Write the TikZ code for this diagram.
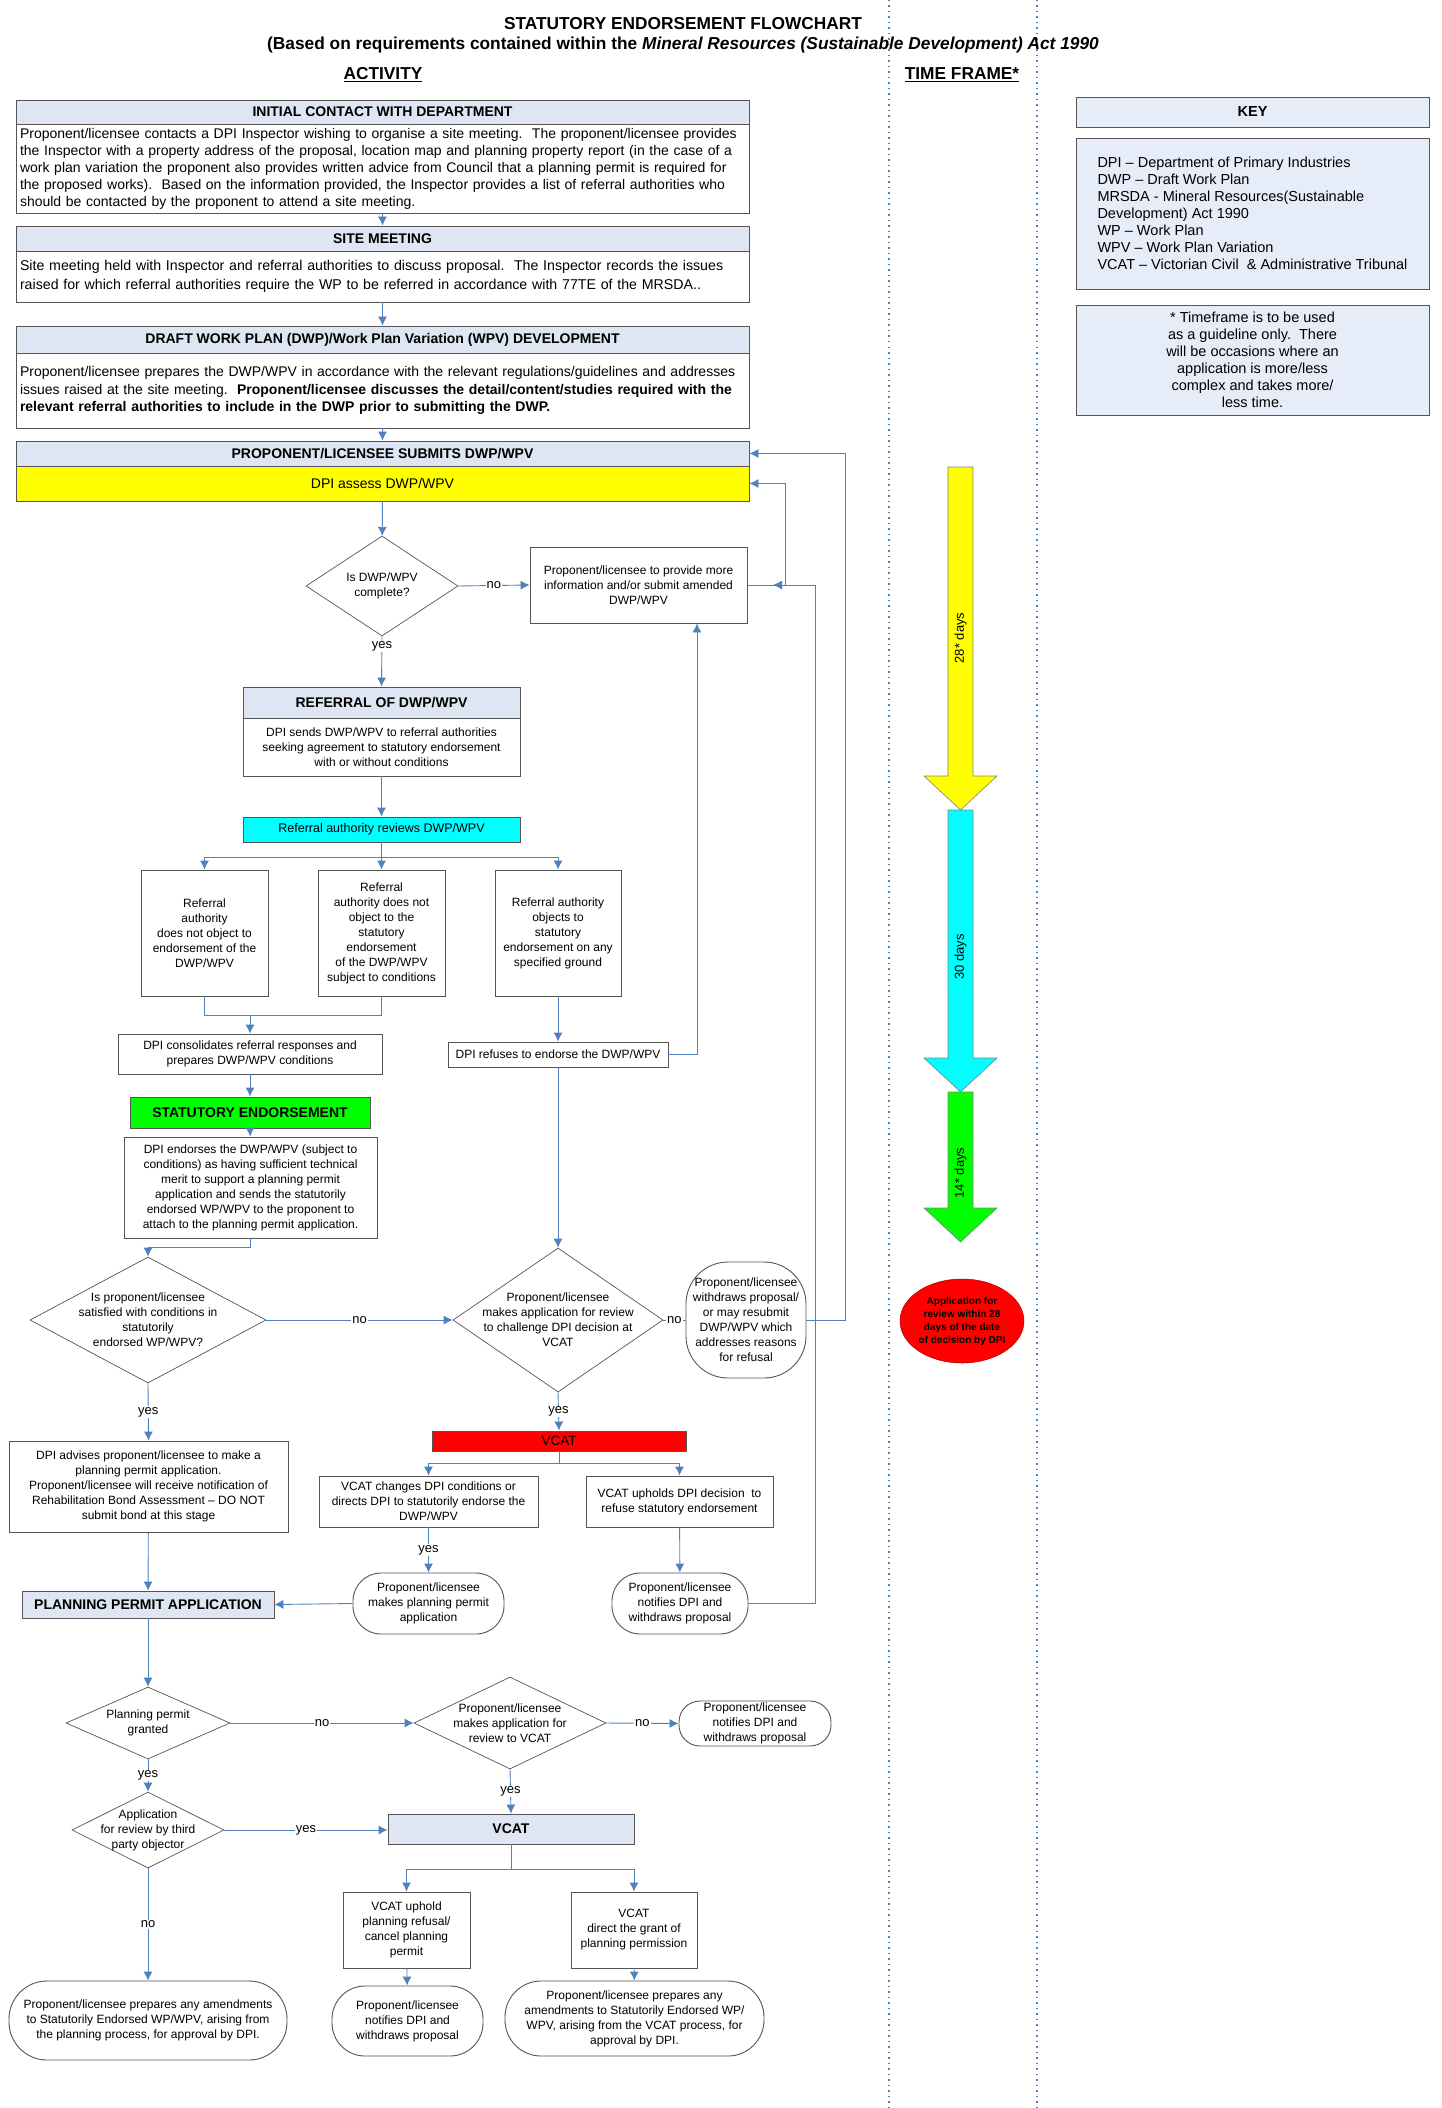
\documentclass[tikz,border=0pt]{standalone}
\usepackage{fontspec}
\setmainfont{Liberation Sans}
\usepackage{xcolor}
\usepackage{tikz}
\usetikzlibrary{shapes.geometric,arrows.meta,calc}

\definecolor{linkblue}{RGB}{79,129,189}
\definecolor{headblue}{RGB}{221,230,242}
\definecolor{keyblue}{RGB}{230,237,248}
\definecolor{edgegray}{RGB}{85,85,85}
\definecolor{stageyellow}{RGB}{255,255,0}
\definecolor{stagecyan}{RGB}{0,255,255}
\definecolor{stagegreen}{RGB}{0,255,0}
\definecolor{stagered}{RGB}{255,0,0}

\begin{document}
\begin{tikzpicture}[x=1pt,y=-1pt,
		box/.style={draw=edgegray,line width=0.9pt,fill=white,inner sep=2pt,align=center,font=\fontsize{12}{15}\selectfont},
		headbox/.style={box,fill=headblue,font=\bfseries\fontsize{14}{17}\selectfont},
		textbox/.style={box,align=left,inner xsep=4pt,text width=725pt,font=\fontsize{14}{15.3}\selectfont},
		oval/.style={box,rounded corners=#1},
		query/.style={diamond,draw=edgegray,line width=0.7pt,fill=white,inner sep=0pt},
		qtext/.style={align=center,font=\fontsize{12}{15}\selectfont},
		link/.style={draw=linkblue,line width=0.9pt},
		flow/.style={link,-{Latex[length=9pt,width=9pt]}},
		answer/.style={fill=white,inner sep=1pt,font=\fontsize{13}{15}\selectfont},
		keybox/.style={draw=edgegray,line width=0.9pt,fill=keyblue,font=\fontsize{14.5}{17}\selectfont},
		heading/.style={font=\bfseries\fontsize{17.3}{20}\selectfont}]
		\useasboundingbox (0,0) rectangle (1441,2108);
		% time frame column
		\draw[linkblue,line width=1.3pt,dash pattern=on 1.5pt off 4pt] (889,0) -- (889,2108);
		\draw[linkblue,line width=1.3pt,dash pattern=on 1.5pt off 4pt] (1037,0) -- (1037,2108);
		% titles
		\node[heading] (title) at (683,24) {STATUTORY ENDORSEMENT FLOWCHART};
		\node[heading] (subtitle) at (683,45) {(Based on requirements contained within the \textit{Mineral Resources (Sustainable Development) Act 1990}};
		\node[heading] (activity) at (383,75) {\underline{ACTIVITY}};
		\node[heading] (timeframe) at (962,75) {\underline{TIME FRAME*}};
		% key
		\node[keybox,minimum width=353pt,minimum height=30pt,font=\bfseries\fontsize{14.5}{17}\selectfont] (keyhead) at (1252.5,112) {KEY};
		\node[keybox,minimum width=353pt,minimum height=151pt,align=left] (keybody) at (1252.5,213.5) {DPI – Department of Primary Industries\\DWP – Draft Work Plan\\MRSDA - Mineral Resources(Sustainable\\Development) Act 1990\\WP – Work Plan\\WPV – Work Plan Variation\\VCAT – Victorian Civil\ \ \& Administrative Tribunal};
		\node[keybox,minimum width=353pt,minimum height=110pt,align=center] (keynote) at (1252.5,360) {* Timeframe is to be used\\as a guideline only.\ \ There\\will be occasions where an\\application is more/less\\complex and takes more/\\less time.};
		% time bars
		\foreach \top/\neck/\tip/\col/\mid/\days in {467/776/810/stageyellow/638/28* days,810/1058/1092/stagecyan/957/30 days,1092/1208/1242/stagegreen/1173/14* days}{
			\filldraw[fill=\col,draw=gray,line width=0.6pt] (948,\top) -- (973,\top) -- (973,\neck) -- (997,\neck) -- (960.5,\tip) -- (924,\neck) -- (948,\neck) -- cycle;
			\node[rotate=90,font=\fontsize{13}{15}\selectfont] at (960.5,\mid) {\days};
		}
		\node[ellipse,fill=stagered,draw=red!70!black,line width=0.5pt,minimum width=124pt,minimum height=84pt,inner sep=0pt,
			label={[align=center,font=\bfseries\fontsize{10}{13}\selectfont]center:{Application for\\review within 28\\days of the date\\of decision by DPI}}] (window) at (962,1321) {};
		% activity column
		\node[headbox,minimum width=733pt,minimum height=24pt] (contacthead) at (382.5,112) {INITIAL CONTACT WITH DEPARTMENT};
		\node[textbox,minimum height=89pt,font=\fontsize{14}{17}\selectfont] (contactbody) at (382.5,168.5) {Proponent/licensee contacts a DPI Inspector wishing to organise a site meeting.\ \ The proponent/licensee provides\\the Inspector with a property address of the proposal, location map and planning property report (in the case of a\\work plan variation the proponent also provides written advice from Council that a planning permit is required for\\the proposed works).\ \ Based on the information provided, the Inspector provides a list of referral authorities who\\should be contacted by the proponent to attend a site meeting.};
		\node[headbox,minimum width=733pt,minimum height=25pt] (sitehead) at (382.5,238.5) {SITE MEETING};
		\node[textbox,minimum height=51pt,font=\fontsize{14.2}{19.5}\selectfont] (sitebody) at (382.5,276.5) {Site meeting held with Inspector and referral authorities to discuss proposal.\ \ The Inspector records the issues\\raised for which referral authorities require the WP to be referred in accordance with 77TE of the MRSDA..};
		\node[headbox,minimum width=733pt,minimum height=27pt] (drafthead) at (382.5,339.5) {DRAFT WORK PLAN (DWP)/Work Plan Variation (WPV) DEVELOPMENT};
		\node[textbox,minimum height=75pt,font=\fontsize{14}{17.5}\selectfont] (draftbody) at (382.5,390.5) {Proponent/licensee prepares the DWP/WPV in accordance with the relevant regulations/guidelines and addresses\\issues raised at the site meeting.\ \ \textbf{Proponent/licensee discusses the detail/content/studies required with the}\\\textbf{relevant referral authorities to include in the DWP prior to submitting the DWP.}};
		\node[headbox,minimum width=733pt,minimum height=25pt] (submithead) at (382.5,453.5) {PROPONENT/LICENSEE SUBMITS DWP/WPV};
		\node[box,fill=stageyellow,minimum width=733pt,minimum height=35pt,font=\fontsize{14}{17}\selectfont] (assess) at (382.5,483.5) {DPI assess DWP/WPV};
		\node[query,minimum width=152pt,minimum height=100pt,label={[qtext]center:{Is DWP/WPV\\complete?}}] (complete) at (382,586) {};
		\node[box,minimum width=217pt,minimum height=76pt] (more) at (638.5,585) {Proponent/licensee to provide more\\information and/or submit amended\\DWP/WPV};
		\node[headbox,minimum width=277pt,minimum height=31pt] (referhead) at (381.5,702.5) {REFERRAL OF DWP/WPV};
		\node[box,minimum width=277pt,minimum height=58pt] (referbody) at (381.5,747) {DPI sends DWP/WPV to referral authorities\\seeking agreement to statutory endorsement\\with or without conditions};
		\node[box,fill=stagecyan,minimum width=277pt,minimum height=25pt,font=\fontsize{12.5}{15}\selectfont] (review) at (381.5,829.5) {Referral authority reviews DWP/WPV};
		\node[box,minimum width=127pt,minimum height=126pt] (noobject) at (204.5,933) {Referral\\authority\\does not object to\\endorsement of the\\DWP/WPV};
		\node[box,minimum width=127pt,minimum height=126pt] (conditions) at (381.5,933) {Referral\\authority does not\\object to the\\statutory\\endorsement\\of the DWP/WPV\\subject to conditions};
		\node[box,minimum width=126pt,minimum height=126pt] (objects) at (558,933) {Referral authority\\objects to\\statutory\\endorsement on any\\specified ground};
		\node[box,minimum width=264pt,minimum height=40pt] (consolidate) at (250,1054) {DPI consolidates referral responses and\\prepares DWP/WPV conditions};
		\node[box,minimum width=220pt,minimum height=25pt] (refuse) at (558,1054.5) {DPI refuses to endorse the DWP/WPV};
		\node[headbox,fill=stagegreen,minimum width=240pt,minimum height=31pt] (endorsement) at (250,1112.5) {STATUTORY ENDORSEMENT};
		\node[box,minimum width=253pt,minimum height=101pt] (endorses) at (250.5,1187.5) {DPI endorses the DWP/WPV (subject to\\conditions) as having sufficient technical\\merit to support a planning permit\\application and sends the statutorily\\endorsed WP/WPV to the proponent to\\attach to the planning permit application.};
		\node[query,minimum width=236pt,minimum height=126pt,label={[qtext]center:{Is proponent/licensee\\satisfied with conditions in\\statutorily\\endorsed WP/WPV?}}] (satisfied) at (148,1320) {};
		\node[query,minimum width=210pt,minimum height=144pt,label={[qtext]center:{Proponent/licensee\\makes application for review\\to challenge DPI decision at\\VCAT}}] (challenge) at (558,1320) {};
		\node[oval=42pt,minimum width=120pt,minimum height=116pt] (resubmit) at (746,1320) {Proponent/licensee\\withdraws proposal/\\or may resubmit\\DWP/WPV which\\addresses reasons\\for refusal};
		\node[box,minimum width=279pt,minimum height=91pt] (advises) at (148.5,1486.5) {DPI advises proponent/licensee to make a\\planning permit application.\\Proponent/licensee will receive notification of\\Rehabilitation Bond Assessment – DO NOT\\submit bond at this stage};
		\node[box,fill=stagered,minimum width=254pt,minimum height=20pt,inner sep=0pt,font=\fontsize{13.5}{15}\selectfont] (vcat) at (559,1441) {VCAT};
		\node[box,minimum width=219pt,minimum height=51pt] (changes) at (428.5,1501.5) {VCAT changes DPI conditions or\\directs DPI to statutorily endorse the\\DWP/WPV};
		\node[box,minimum width=187pt,minimum height=51pt] (upholds) at (679.5,1501.5) {VCAT upholds DPI decision\ \ to\\refuse statutory endorsement};
		\node[oval=28pt,minimum width=151pt,minimum height=61pt] (makes) at (428.5,1603.5) {Proponent/licensee\\makes planning permit\\application};
		\node[oval=28pt,minimum width=136pt,minimum height=61pt] (withdraws) at (680,1603.5) {Proponent/licensee\\notifies DPI and\\withdraws proposal};
		\node[headbox,minimum width=252pt,minimum height=27pt] (permit) at (148,1604.5) {PLANNING PERMIT APPLICATION};
		\node[query,minimum width=164pt,minimum height=72pt,label={[qtext]center:{Planning permit\\granted}}] (granted) at (148,1723) {};
		\node[query,minimum width=192pt,minimum height=92pt,label={[qtext]center:{Proponent/licensee\\makes application for\\review to VCAT}}] (appeal) at (510,1723) {};
		\node[oval=21pt,minimum width=152pt,minimum height=45pt,inner sep=0pt] (notifies) at (755,1723.5) {Proponent/licensee\\notifies DPI and\\withdraws proposal};
		\node[query,minimum width=152pt,minimum height=76pt,label={[qtext]center:{Application\\for review by third\\party objector}}] (objector) at (148,1830) {};
		\node[headbox,minimum width=246pt,minimum height=30pt] (tribunal) at (511,1829) {VCAT};
		\node[box,minimum width=127pt,minimum height=76pt] (refusal) at (406.5,1930) {VCAT uphold\\planning refusal/\\cancel planning\\permit};
		\node[box,minimum width=126pt,minimum height=76pt] (grant) at (634,1930) {VCAT\\direct the grant of\\planning permission};
		\node[oval=33pt,minimum width=151pt,minimum height=70pt] (cancelled) at (407.5,2021) {Proponent/licensee\\notifies DPI and\\withdraws proposal};
		\node[oval=36pt,minimum width=259pt,minimum height=75pt] (vcatamend) at (634.5,2018.5) {Proponent/licensee prepares any\\amendments to Statutorily Endorsed WP/\\WPV, arising from the VCAT process, for\\approval by DPI.};
		\node[oval=38pt,minimum width=278pt,minimum height=79pt] (planamend) at (148,2020.5) {Proponent/licensee prepares any amendments\\to Statutorily Endorsed WP/WPV, arising from\\the planning process, for approval by DPI.};
		% connectors
		\coordinate (backtomore) at (773,585);
		\draw[flow] (contactbody) -- (sitehead);
		\draw[flow] (sitebody) -- (drafthead);
		\draw[flow] (draftbody) -- (submithead);
		\draw[flow] (assess) -- (complete);
		\draw[flow] (complete.east) -- node[answer]{no} (more.west);
		\draw[flow] (complete.south) -- node[answer,pos=0.2]{yes} (referhead.north);
		\draw[flow] (more.east) -- ++(38,0) |- (assess.east);
		\draw[flow] (withdraws.east) -| (815,585) -- (backtomore);
		\draw[flow] (referbody) -- (review);
		\draw[flow] (review.south) -- ++(0,15) -| (noobject.north);
		\draw[flow] (review.south) -- (conditions.north);
		\draw[flow] (review.south) -- ++(0,15) -| (objects.north);
		\draw[link] (noobject.south) |- (250,1015) -| (conditions.south);
		\draw[flow] (250,1015) -- (consolidate.north);
		\draw[flow] (objects) -- (refuse);
		\draw[flow] (refuse.east) -| ([xshift=58.5pt]more.south);
		\draw[flow] (refuse.south) -- (challenge.north);
		\draw[flow] (consolidate) -- (endorsement);
		\draw[flow] (endorsement) -- (endorses);
		\draw[flow] (endorses.south) -- ++(0,9) -| (satisfied.north);
		\draw[flow] (satisfied.east) -- node[answer]{no} (challenge.west);
		\draw[link] (challenge.east) -- node[answer]{no} (resubmit.west);
		\draw[flow] (resubmit.east) -- ++(39,0) |- (submithead.east);
		\draw[flow] (satisfied.south) -- node[answer]{yes} (advises.north);
		\draw[flow] (challenge.south) -- node[answer]{yes} (vcat.north);
		\draw[flow] (vcat.south) -- ++(0,12) -| (changes.north);
		\draw[flow] (vcat.south) -- ++(0,12) -| (upholds.north);
		\draw[flow] (changes.south) -- node[answer]{yes} (makes.north);
		\draw[flow] (upholds) -- (withdraws);
		\draw[flow] (makes.west) -- (permit.east);
		\draw[flow] (advises) -- (permit);
		\draw[flow] (permit.south) -- (granted.north);
		\draw[flow] (granted.east) -- node[answer]{no} (appeal.west);
		\draw[flow] (appeal.east) -- node[answer]{no} (notifies.west);
		\draw[flow] (granted.south) -- node[answer]{yes} (objector.north);
		\draw[flow] (appeal.south) -- node[answer]{yes} (tribunal.north);
		\draw[flow] (objector.east) -- node[answer]{yes} (tribunal.west |- objector.east);
		\draw[flow] (tribunal.south) -- ++(0,25) -| (refusal.north);
		\draw[flow] (tribunal.south) -- ++(0,25) -| (grant.north);
		\draw[flow] (refusal) -- (cancelled);
		\draw[flow] (grant) -- (vcatamend);
		\draw[flow] (objector.south) -- node[answer]{no} (planamend.north);
	\end{tikzpicture}
\end{document}
